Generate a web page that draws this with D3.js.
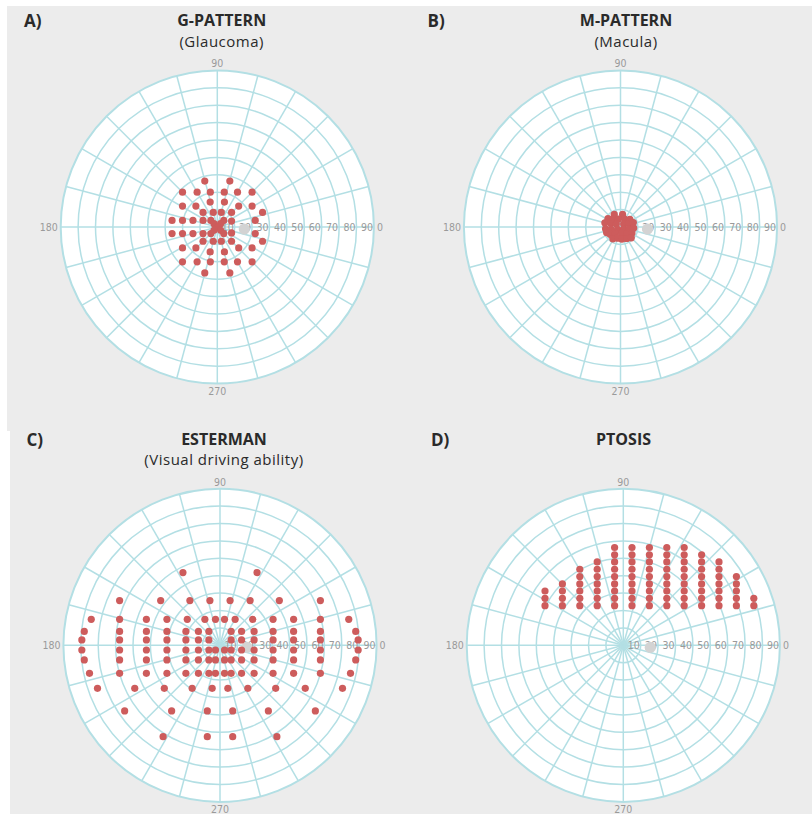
<!DOCTYPE html>
<html>
<head>
<meta charset="utf-8">
<script src="https://cdn.jsdelivr.net/npm/d3@7"></script>
<style>
  html, body { margin: 0; padding: 0; background: #ffffff; }
  svg { display: block; }
</style>
</head>
<body>
<svg id="chart" width="812" height="814"></svg>
<script>
// Stimulus locations in degrees of visual field: [horizontal, vertical]
const gPattern = [
  [-7.2, 26.4], [7.2, 26.4],
  [-20, 20], [-11.6, 20], [-4, 20], [4, 20], [11.6, 20], [20, 20],
  [-4.1, 14.3], [4.1, 14.3],
  [-20, 12], [-12.3, 12], [12.3, 12], [20, 12],
  [-8.2, 8.4], [-2.3, 8.4], [2.3, 8.4], [8.2, 8.4], [26, 8.4],
  [-26, 3.8], [-20, 3.8], [-14, 3.8], [-8.2, 3.8], [8.2, 3.4], [21.8, 3.8],
  [-3.7, 3.8], [3.7, 3.8],
  [-1.9, 1.9], [1.9, 1.9], [0, 0], [-1.9, -1.9], [1.9, -1.9],
  [-3.7, -3.8], [3.7, -3.8],
  [-26, -3.8], [-20, -3.8], [-14, -3.8], [-8.2, -3.8], [8.2, -3.4], [21.8, -3.8],
  [-8.2, -8.2], [-2.3, -8.2], [2.3, -8.2], [8.2, -8.2], [26, -8.2],
  [-20, -12], [-12.3, -12], [12.3, -12], [20, -12],
  [-4.1, -14.3], [4.1, -14.3],
  [-20, -20], [-11.6, -20], [-4, -20], [4, -20], [11.6, -20], [20, -20],
  [-7.2, -26.4], [7.2, -26.4]
];

const mPattern = [
  [-3.6, 7.2], [1.2, 7.2],
  [-7.2, 4.8], [-4.6, 4.6], [-1.2, 4.6], [2.4, 4.6], [5.4, 4.4],
  [-9, 2.4], [-5.6, 2.0], [-2.4, 1.7], [1.8, 1.7], [4.8, 1.9], [7.4, 2.6],
  [-8.6, -1.0], [-5.4, -1.4], [-1.7, -1.4], [1.7, -1.4], [4.8, -1.2], [7.6, -0.6],
  [-8.0, -3.2], [-6.0, -4.2], [-3.0, -3.8], [0.6, -3.6], [3.6, -3.8], [6.6, -3.4],
  [-4.4, -6.8], [-1.6, -6.4], [0.8, -7.0], [3.6, -6.6], [6.2, -6.2]
];

const esterman = [
  [-21.3, 41.8], [21.3, 41.8],
  [-57.7, 25.7], [-34.1, 25.7], [-17.3, 25.7], [-5.8, 25.7], [5.8, 25.7], [17.3, 25.7], [34.1, 25.7], [57.7, 25.7],
  [-74, 14.9], [-57.7, 14.9], [-42.3, 14.9], [-30.5, 14.9], [-18.8, 14.9], [-8.7, 14.9], [-2.6, 14.9],
  [2.6, 14.9], [8.7, 14.9], [18.8, 14.9], [30.5, 14.9], [42.3, 14.9], [57.7, 14.9], [74, 14.9],
  [-78, 8.0], [-57.7, 8.0], [-42.3, 8.0], [-30.5, 8.0], [-19.6, 8.0], [-12.4, 8.0], [-6.4, 8.0],
  [6.4, 8.0], [12.4, 8.0], [19.6, 8.0], [30.5, 8.0], [42.3, 8.0], [57.7, 8.0], [78, 8.0],
  [-79.4, 3.1], [-57.7, 3.1], [-42.3, 3.1], [-30.5, 3.1], [-19.6, 3.1], [-12.4, 3.1], [-6.4, 3.1],
  [6.4, 3.1], [12.4, 3.1], [19.6, 3.1], [30.5, 3.1], [42.3, 3.1], [57.7, 3.1], [79.4, 3.1],
  [-79.4, -2.7], [-57.7, -2.7], [-42.3, -2.7], [-30.5, -2.7], [-19.6, -2.7], [-12.4, -2.7], [-6.4, -2.7], [-2.6, -2.7],
  [2.6, -2.7], [6.4, -2.7], [12.4, -2.7], [19.6, -2.7], [30.5, -2.7], [42.3, -2.7], [57.7, -2.7], [79.4, -2.7],
  [-78, -8.4], [-57.7, -8.4], [-42.3, -8.4], [-30.5, -8.4], [-19.6, -8.4], [-12.4, -8.4], [-6.4, -8.4], [-2.6, -8.4],
  [2.6, -8.4], [6.4, -8.4], [12.4, -8.4], [19.6, -8.4], [30.5, -8.4], [42.3, -8.4], [57.7, -8.4], [78, -8.4],
  [-75, -16.1], [-57.7, -16.1], [-42.3, -16.1], [-30.5, -16.1], [-19.6, -16.1], [-12.4, -16.1], [-6.4, -16.1], [-2.6, -16.1],
  [2.6, -16.1], [6.4, -16.1], [12.4, -16.1], [19.6, -16.1], [30.5, -16.1], [42.3, -16.1], [57.7, -16.1], [75, -16.1],
  [-70.4, -24.7], [-49, -24.7], [-32, -24.7], [-16, -24.7], [-4.5, -24.7],
  [4.5, -24.7], [16, -24.7], [32, -24.7], [49, -24.7], [70.4, -24.7],
  [-54.8, -37.7], [-27.8, -37.7], [-7.3, -37.7], [7.3, -37.7], [27.8, -37.7], [54.8, -37.7],
  [-32.7, -52.5], [-7.3, -52.5], [7.3, -52.5], [32.7, -52.5]
];

// Ptosis grid: column positions, row positions and how many rows each column fills from the bottom
const ptosisColumnsX = [-45, -35, -25, -15, -5, 5, 15, 25, 35, 45, 55, 65, 75];
const ptosisRowsY = [22.8, 27.0, 31.2, 35.3, 39.5, 43.7, 47.9, 52.0, 56.2];
const ptosisColumnHeights = [3, 4, 6, 7, 9, 9, 9, 9, 9, 8, 7, 5, 2];

const blindSpot = [15.5, -1.2];

const radialTicks = [10, 20, 30, 40, 50, 60, 70, 80, 90];
const angularTicks = [0, 90, 180, 270];
const spokeStep = 15;

const panelLetters = ["A)", "B)", "C)", "D)"];
const panelTitles = ["G-PATTERN", "M-PATTERN", "ESTERMAN", "PTOSIS"];
const panelSubtitles = ["(Glaucoma)", "(Macula)", "(Visual driving ability)", ""];

// Build the ptosis point list from the column table
const ptosis = [];
ptosisColumnsX.forEach((x, i) => {
  for (let k = 0; k < ptosisColumnHeights[i]; k++) ptosis.push([x, ptosisRowsY[k]]);
});

const pointSets = [gPattern, mPattern, esterman, ptosis];

// Layout
const R = 156.6;
const layout = [
  { cx: 217.3, cy: 227, titleX: 221.7, letterX: 24, titleY: 25.5, subY: 46.5 },
  { cx: 620.5, cy: 227, titleX: 626, letterX: 427.5, titleY: 25.5, subY: 46.5 },
  { cx: 220, cy: 645.3, titleX: 224, letterX: 26.5, titleY: 444.5, subY: 465 },
  { cx: 623.3, cy: 645.3, titleX: 623.5, letterX: 431, titleY: 444.5, subY: 465 }
];

const rScale = d3.scaleLinear().domain([0, 90]).range([0, R]);

const svg = d3.select("#chart");

// Panel backgrounds
svg.append("rect").attr("x", 7).attr("y", 6).attr("width", 805).attr("height", 425).attr("fill", "#ececec");
svg.append("rect").attr("x", 10).attr("y", 430).attr("width", 802).attr("height", 384).attr("fill", "#ececec");

const gridColor = "#b3dfe4";
const labelColor = "#9a9a9a";
const dotColor = "#cd5c5c";
const tickFont = "'Liberation Sans Narrow', 'Arial Narrow', 'DejaVu Sans Condensed', sans-serif";

function toPolar(p) {
  return { r: Math.hypot(p[0], p[1]), theta: Math.atan2(p[1], p[0]) };
}

layout.forEach((L, i) => {
  const g = svg.append("g").attr("transform", `translate(${L.cx},${L.cy})`);
  const px = d => rScale(d.r) * Math.cos(d.theta);
  const py = d => -rScale(d.r) * Math.sin(d.theta);

  // plot disc
  g.append("circle").attr("r", rScale(90)).attr("fill", "#ffffff");

  // angular gridlines
  g.selectAll("line.spoke")
    .data(d3.range(0, 360, spokeStep))
    .join("line")
    .attr("class", "spoke")
    .attr("x1", 0).attr("y1", 0)
    .attr("x2", a => rScale(90) * Math.cos(a * Math.PI / 180))
    .attr("y2", a => -rScale(90) * Math.sin(a * Math.PI / 180))
    .attr("stroke", gridColor)
    .attr("stroke-width", 1.5);

  // radial gridlines
  g.selectAll("circle.ring")
    .data(radialTicks)
    .join("circle")
    .attr("class", "ring")
    .attr("r", t => rScale(t))
    .attr("fill", "none")
    .attr("stroke", gridColor)
    .attr("stroke-width", t => t === 90 ? 2 : 1.5);

  // radial tick labels along 0°
  g.selectAll("text.rtick")
    .data(radialTicks)
    .join("text")
    .attr("class", "rtick")
    .attr("x", t => rScale(t) - 7)
    .attr("y", 0)
    .attr("text-anchor", "middle")
    .attr("dominant-baseline", "central")
    .attr("font-family", tickFont)
    .attr("font-size", 10.5)
    .attr("fill", labelColor)
    .text(t => t);

  // angular tick labels
  g.selectAll("text.atick")
    .data(angularTicks)
    .join("text")
    .attr("class", "atick")
    .attr("x", a => a === 0 ? rScale(90) + 3 : a === 180 ? -rScale(90) - 3 : 0)
    .attr("y", a => a === 90 ? -rScale(90) - 7 : a === 270 ? rScale(90) + 7 : 0)
    .attr("text-anchor", a => a === 0 ? "start" : a === 180 ? "end" : "middle")
    .attr("dominant-baseline", "central")
    .attr("font-family", tickFont)
    .attr("font-size", 10.5)
    .attr("fill", labelColor)
    .text(a => a);

  // blind spot
  const bs = toPolar(blindSpot);
  g.append("circle")
    .attr("cx", px(bs)).attr("cy", py(bs))
    .attr("r", 5.6)
    .attr("fill", "#d3d3d3");

  // stimulus points
  g.selectAll("circle.pt")
    .data(pointSets[i].map(toPolar))
    .join("circle")
    .attr("class", "pt")
    .attr("cx", px)
    .attr("cy", py)
    .attr("r", 3.6)
    .attr("fill", dotColor);

  // headings
  svg.append("text")
    .attr("x", L.letterX).attr("y", L.titleY + 1)
    .attr("font-family", "'Open Sans', sans-serif")
    .attr("font-weight", 700)
    .attr("font-size", 17)
    .attr("fill", "#2a2a2a")
    .text(panelLetters[i]);

  svg.append("text")
    .attr("x", L.titleX).attr("y", L.titleY)
    .attr("text-anchor", "middle")
    .attr("font-family", "'Open Sans', sans-serif")
    .attr("font-weight", 700)
    .attr("font-size", 16)
    .attr("fill", "#2a2a2a")
    .text(panelTitles[i]);

  if (panelSubtitles[i]) {
    svg.append("text")
      .attr("x", L.titleX).attr("y", L.subY)
      .attr("text-anchor", "middle")
      .attr("font-family", "'Open Sans', sans-serif")
      .attr("font-size", 15)
      .attr("letter-spacing", 0.5)
      .attr("fill", "#2a2a2a")
      .text(panelSubtitles[i]);
  }
});
</script>
</body>
</html>
